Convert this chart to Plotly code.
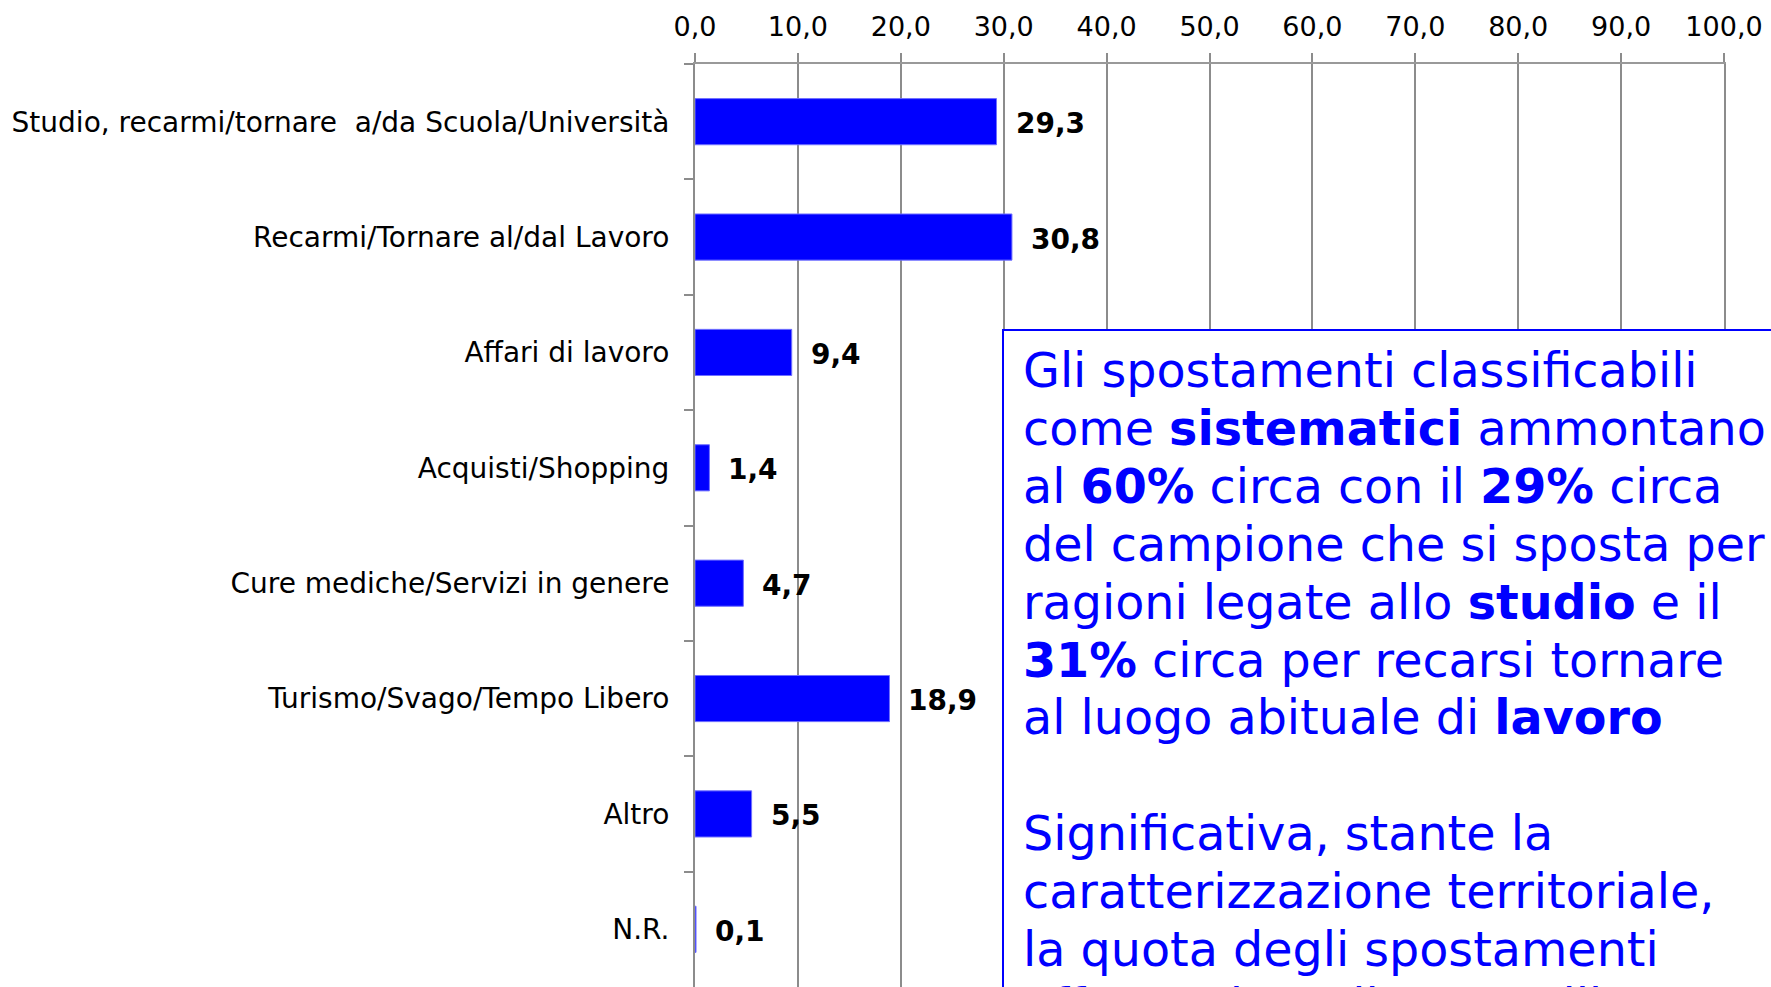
import plotly.graph_objects as go

# Motivi dello spostamento (%)
categorie = [
    "Studio, recarmi/tornare  a/da Scuola/Università",
    "Recarmi/Tornare al/dal Lavoro",
    "Affari di lavoro",
    "Acquisti/Shopping",
    "Cure mediche/Servizi in genere",
    "Turismo/Svago/Tempo Libero",
    "Altro",
    "N.R.",
]
valori = [29.3, 30.8, 9.4, 1.4, 4.7, 18.9, 5.5, 0.1]
etichette = ["29,3", "30,8", "9,4", "1,4", "4,7", "18,9", "5,5", "0,1"]

testo_box = [
    "Gli spostamenti classificabili",
    "come <b>sistematici</b> ammontano",
    "al <b>60%</b> circa con il <b>29%</b> circa",
    "del campione che si sposta per",
    "ragioni legate allo <b>studio</b> e il",
    "<b>31%</b> circa per recarsi tornare",
    "al luogo abituale di <b>lavoro</b>",
    "",
    "Significativa, stante la",
    "caratterizzazione territoriale,",
    "la quota degli spostamenti",
    "effettuati per il tempo libero",
]

W, H = 1771, 987
ML, MR, MT, MB = 695, 47, 64, 0
PW, PH = W - ML - MR, H - MT - MB


def px_x(p):
    return (p - ML) / PW


def px_y(p):
    return (H - MB - p) / PH


FONT = "DejaVu Sans, Verdana, sans-serif"
BLU = "#0000FF"
GRIGIO = "#8c8c8c"

fig = go.Figure()
fig.add_trace(go.Bar(
    x=valori,
    y=categorie,
    orientation="h",
    marker=dict(color=BLU, line=dict(color="#7070ff", width=1)),
    hoverinfo="skip",
))

# etichette dei valori accanto alle barre
for v, c, t in zip(valori, categorie, etichette):
    fig.add_annotation(
        x=v, y=c, xref="x", yref="y", text=f"<b>{t}</b>",
        showarrow=False, xanchor="left", yanchor="middle", xshift=17, yshift=-2,
        font=dict(family=FONT, size=28, color="black"),
    )

# riquadro di commento
fig.add_shape(
    type="rect", xref="paper", yref="paper",
    x0=px_x(1003), x1=px_x(1900), y0=px_y(330), y1=px_y(1100),
    fillcolor="white", line=dict(color=BLU, width=2), layer="above",
)
for i, riga in enumerate(testo_box):
    if not riga:
        continue
    fig.add_annotation(
        x=px_x(1021), y=px_y(371 + 57.8 * i), xref="paper", yref="paper",
        text=riga, showarrow=False, xanchor="left", yanchor="middle",
        font=dict(family=FONT, size=47.6, color=BLU),
    )

fig.update_layout(
    width=W, height=H,
    margin=dict(l=ML, r=MR, t=MT, b=MB, pad=0),
    paper_bgcolor="white", plot_bgcolor="white",
    separators=",.",
    showlegend=False,
    bargap=0.60,
    font=dict(family=FONT, color="black"),
)
fig.update_xaxes(
    side="top", range=[0, 100], dtick=10, tick0=0, tickformat=".1f",
    showgrid=True, gridcolor=GRIGIO, gridwidth=1.5,
    showline=True, linecolor="#999999", linewidth=2,
    ticks="outside", ticklen=9, tickcolor=GRIGIO, tickwidth=1.5,
    ticklabelstandoff=6,
    tickfont=dict(family=FONT, size=27, color="black"),
    zeroline=False, fixedrange=True,
)
fig.update_yaxes(
    categoryorder="array", categoryarray=categorie, autorange="reversed",
    showgrid=False, showline=True, linecolor=GRIGIO, linewidth=2, mirror=True,
    ticks="outside", tickson="boundaries", ticklen=9, tickcolor=GRIGIO, tickwidth=1.5,
    ticklabelstandoff=18,
    tickfont=dict(family=FONT, size=28, color="black"),
    fixedrange=True,
)

fig.write_html("out.html")
